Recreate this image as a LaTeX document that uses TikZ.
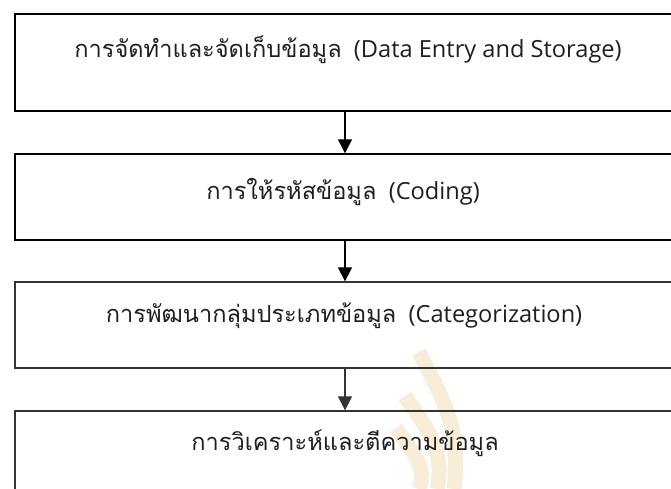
\documentclass[tikz,border=0pt]{standalone}
\usepackage{fontspec}
\setmainfont{Open Sans}
\newfontfamily\thaifont[Script=Thai]{Loma}
\usetikzlibrary{arrows.meta}
\definecolor{sealgold}{RGB}{236,203,145}

\begin{document}
\begin{tikzpicture}[x=1pt,y=-1pt,
    stage/.style={draw,rectangle,minimum width=660pt,inner sep=0pt},
    caption/.style={anchor=base,inner sep=0pt,text=black!88,font=\fontsize{23.6}{28}\selectfont},
    flow/.style={-{Triangle[length=14pt,width=14pt]},line width=1.2pt}]
          \useasboundingbox (0,0) rectangle (671,489);

          % faint seal behind the last box
          \begin{scope}[sealgold,line width=15pt,opacity=0.35]
            \draw (419,352) .. controls (440,395) and (462,425) .. (454,489);
            \draw (405,396) .. controls (424,425) and (446,448) .. (437,489);
            \draw (396,428) .. controls (410,450) and (428,465) .. (419,489);
          \end{scope}

          \begin{scope}[every node/.style={stage}]
            \node (entry) [line width=1.5pt,minimum height=97pt] at (345,62.5) {};
            \node (coding) [line width=1.4pt,minimum height=86pt] at (345,197) {};
            \node (category) [line width=1.3pt,draw=black!80,minimum height=86pt] at (345,325) {};
            \node (analysis) [line width=1.3pt,draw=black!80,minimum height=86pt] at (345,454) {};
          \end{scope}

          \node (entrytext) [caption] at (348,57.5) {{\thaifont การจัดทำและจัดเก็บข้อมูล}\ \ (Data Entry and Storage)};
          \node (codingtext) [caption] at (343,199) {{\thaifont การให้รหัสข้อมูล}\ \ (Coding)};
          \node (categorytext) [caption] at (344,322) {{\thaifont การพัฒนากลุ่มประเภทข้อมูล}\ \ (Categorization)};
          \node (analysistext) [caption] at (345,450) {\thaifont การวิเคราะห์และตีความข้อมูล};

          \draw [flow] (entry) -- (coding);
          \draw [flow] (coding) -- (category);
          \draw [flow,draw=black!80,fill=black!80] (category) -- (analysis);
        \end{tikzpicture}
\end{document}
